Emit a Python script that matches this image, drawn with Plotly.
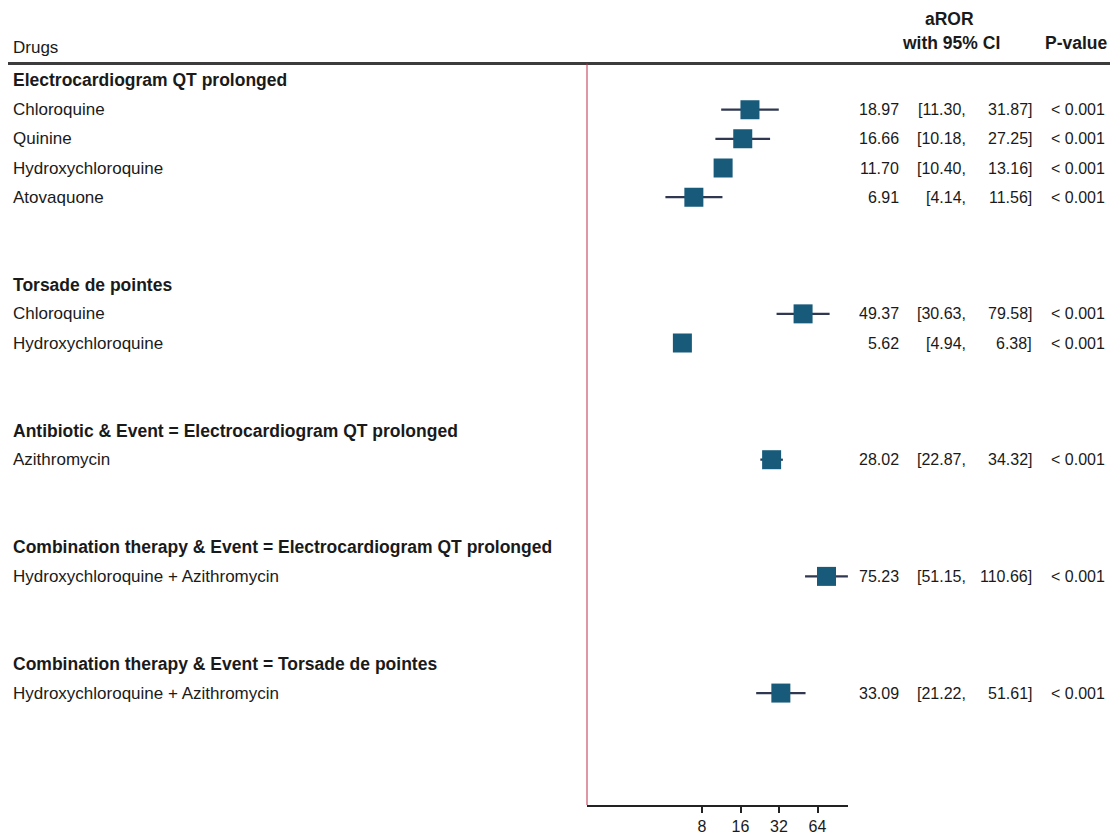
import math
import plotly.graph_objects as go

# ---------------- data ----------------
group_titles = [
    "Electrocardiogram QT prolonged",
    "Torsade de pointes",
    "Antibiotic & Event = Electrocardiogram QT prolonged",
    "Combination therapy & Event = Electrocardiogram QT prolonged",
    "Combination therapy & Event = Torsade de pointes",
]
group_drugs = [
    ["Chloroquine", "Quinine", "Hydroxychloroquine", "Atovaquone"],
    ["Chloroquine", "Hydroxychloroquine"],
    ["Azithromycin"],
    ["Hydroxychloroquine + Azithromycin"],
    ["Hydroxychloroquine + Azithromycin"],
]
aror = [18.97, 16.66, 11.70, 6.91, 49.37, 5.62, 28.02, 75.23, 33.09]
ci_low = [11.30, 10.18, 10.40, 4.14, 30.63, 4.94, 22.87, 51.15, 21.22]
ci_high = [31.87, 27.25, 13.16, 11.56, 79.58, 6.38, 34.32, 110.66, 51.61]
p_values = ["< 0.001"] * 9
x_ticks = [8, 16, 32, 64]

# ---------------- layout helpers (page pixels -> figure coords) ----------------
OFF = 8  # default body margin of the html page
W, H = 1118 - OFF, 834 - OFF
ROW0_PX, ROW_STEP = 80.5, 29.17
TOP_PX, BOTTOM_PX = 63.5, 805
AX_LEFT_PX, AX_RIGHT_PX = 586.5, 848
DOUBLING_PX = 38.5


def fx(px):
    return (px - OFF) / W


def fy(py):
    return 1 - (py - OFF) / H


font_family = "Liberation Sans, Arial, sans-serif"
LABEL_FS = 17
BOLD_FS = 17.5
NUM_FS = 16

# compute row indices
header_rows, item_rows, item_labels = [], [], []
r = 0
for title, drugs in zip(group_titles, group_drugs):
    header_rows.append(r)
    r += 1
    for d in drugs:
        item_rows.append(r)
        item_labels.append(d)
        r += 1
    r += 2

fig = go.Figure()

fig.add_trace(go.Scatter(
    x=aror, y=item_rows, mode="markers",
    marker=dict(symbol="square", size=19, color="#175a7a",
                line=dict(width=0)),
    error_x=dict(type="data", symmetric=False,
                 array=[h - e for h, e in zip(ci_high, aror)],
                 arrayminus=[e - l for e, l in zip(aror, ci_low)],
                 color="#2f3850", thickness=2.2, width=0),
    showlegend=False, hoverinfo="skip",
))

annotations = []
lab_font = dict(size=LABEL_FS, color="#1a1a1a", family=font_family)
bold_font = dict(size=BOLD_FS, color="#1a1a1a", family=font_family)
num_font = dict(size=NUM_FS, color="#1a1a1a", family=font_family)

# left labels
for title, hr in zip(group_titles, header_rows):
    annotations.append(dict(x=fx(11), y=hr, xref="paper", yref="y",
                            text="<b>" + title + "</b>", showarrow=False,
                            xanchor="left", yanchor="middle", font=bold_font))
for lab, ir in zip(item_labels, item_rows):
    annotations.append(dict(x=fx(11), y=ir, xref="paper", yref="y",
                            text=lab, showarrow=False,
                            xanchor="left", yanchor="middle", font=lab_font))
# right text columns
for e, lo, hi, p, ir in zip(aror, ci_low, ci_high, p_values, item_rows):
    cols = [
        (901, "right", f"{e:.2f}"),
        (968, "right", f"[{lo:.2f},"),
        (1034, "right", f"{hi:.2f}]"),
        (1049, "left", p),
    ]
    for xp, anc, txt in cols:
        annotations.append(dict(x=fx(xp), y=ir, xref="paper", yref="y",
                                text=txt, showarrow=False,
                                xanchor=anc, yanchor="middle", font=num_font))
# column headers
annotations += [
    dict(x=fx(11), y=fy(47), xref="paper", yref="paper", text="Drugs",
         showarrow=False, xanchor="left", yanchor="middle", font=lab_font),
    dict(x=fx(949), y=fy(19), xref="paper", yref="paper", text="<b>aROR</b>",
         showarrow=False, xanchor="center", yanchor="middle", font=bold_font),
    dict(x=fx(951), y=fy(43), xref="paper", yref="paper", text="<b>with 95% CI</b>",
         showarrow=False, xanchor="center", yanchor="middle", font=bold_font),
    dict(x=fx(1076), y=fy(43), xref="paper", yref="paper", text="<b>P-value</b>",
         showarrow=False, xanchor="center", yanchor="middle", font=bold_font),
]

shapes = [
    dict(type="line", xref="paper", yref="paper",
         x0=0, x1=1, y0=fy(TOP_PX), y1=fy(TOP_PX),
         line=dict(color="#3c3c3c", width=3)),
    dict(type="line", xref="x", yref="paper", x0=1, x1=1,
         y0=fy(BOTTOM_PX), y1=fy(TOP_PX),
         line=dict(color="#c0304f", width=2)),
]

x_right_log = math.log10(2 ** ((AX_RIGHT_PX - AX_LEFT_PX) / DOUBLING_PX))
y_top = (TOP_PX - ROW0_PX) / ROW_STEP
y_bottom = (BOTTOM_PX - ROW0_PX) / ROW_STEP

fig.update_layout(
    width=W, height=H,
    margin=dict(l=0, r=0, t=0, b=0),
    paper_bgcolor="white", plot_bgcolor="white",
    xaxis=dict(type="log", range=[0, x_right_log],
               domain=[fx(AX_LEFT_PX), fx(AX_RIGHT_PX)],
               tickvals=x_ticks, ticktext=[str(t) for t in x_ticks],
               ticks="outside", ticklen=6, tickwidth=2, tickcolor="#222",
               showline=True, linecolor="#222", linewidth=2,
               showgrid=False, zeroline=False,
               tickfont=dict(size=NUM_FS, color="#1a1a1a", family=font_family)),
    yaxis=dict(range=[y_bottom, y_top],
               domain=[fy(BOTTOM_PX), fy(TOP_PX)],
               visible=False, showgrid=False, zeroline=False),
    annotations=annotations, shapes=shapes,
    font=dict(family=font_family),
)

fig.write_html("out.html")
